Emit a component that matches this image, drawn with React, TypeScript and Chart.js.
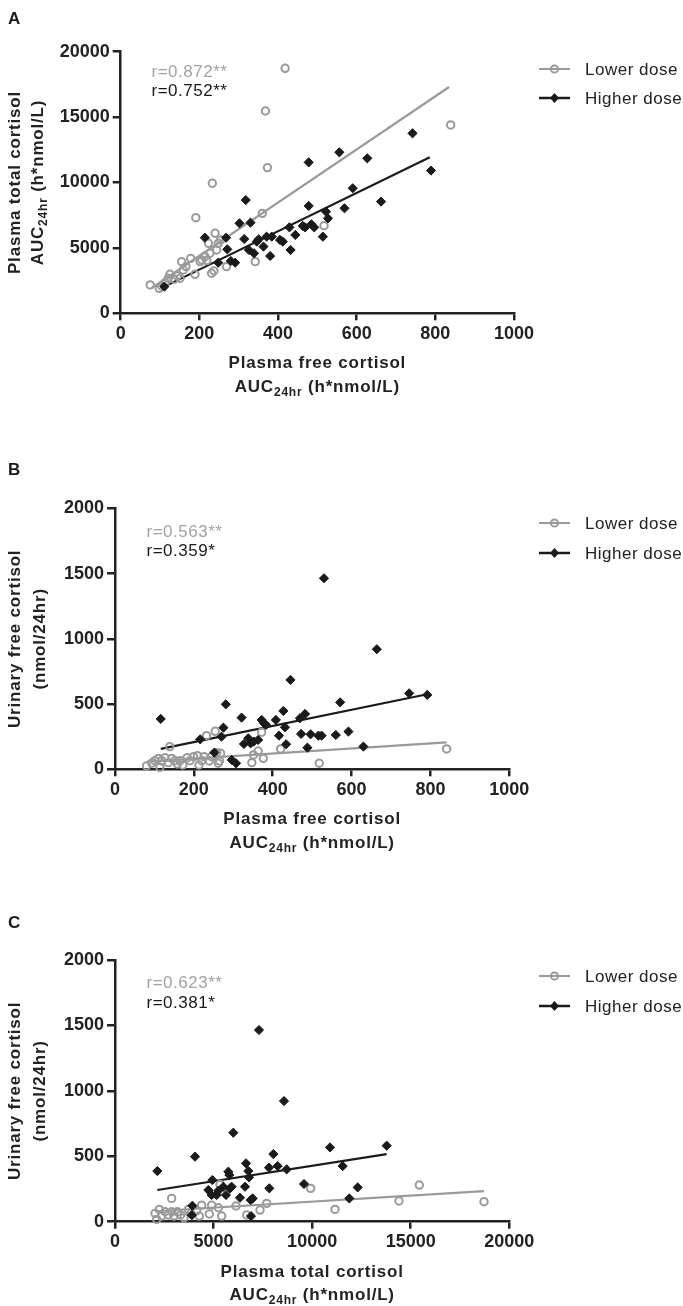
import React, { useEffect, useRef } from 'react';
import { Chart, registerables } from 'chart.js';

Chart.register(...registerables);

// ---------- Data ----------
// Tick labels
const xTicksFree = [0, 200, 400, 600, 800, 1000];
const yTicksTotal = [0, 5000, 10000, 15000, 20000];
const yTicksUrinary = [0, 500, 1000, 1500, 2000];
const xTicksTotal = [0, 5000, 10000, 15000, 20000];

// Panel A: plasma free cortisol (x) vs plasma total cortisol (y)
const aLowerX = [75, 98, 104, 113, 121, 125, 136, 144, 151, 155, 159, 166, 178, 189, 191, 202, 206, 214, 219, 223, 227, 231, 233, 237, 240, 244, 248, 254, 269, 342, 360, 368, 373, 418, 517, 839];
const aLowerY = [2170, 1910, 2090, 2340, 2680, 2980, 2600, 2850, 2680, 3950, 3310, 3570, 4200, 2980, 7310, 3950, 4080, 4330, 4030, 5350, 4590, 3060, 9940, 3240, 6120, 4840, 5350, 5610, 3570, 3950, 7640, 15470, 11140, 18730, 6700, 14400];
const aHigherX = [111, 214, 248, 268, 271, 280, 291, 318, 302, 314, 326, 330, 339, 346, 351, 363, 371, 380, 384, 405, 412, 429, 432, 444, 463, 469, 478, 478, 485, 492, 514, 522, 527, 556, 569, 590, 627, 662, 742, 789];
const aHigherY = [2040, 5780, 3870, 5780, 4890, 4000, 3870, 8660, 6880, 5680, 4840, 6930, 4590, 5480, 5660, 5100, 5860, 4380, 5860, 5610, 5480, 6570, 4840, 5990, 6680, 6570, 11540, 8210, 6800, 6570, 5860, 7770, 7260, 12310, 8030, 9560, 11850, 8540, 13760, 10910];
const aLowerFitX = [78, 835];
const aLowerFitY = [1920, 17300];
const aHigherFitX = [111, 786];
const aHigherFitY = [2040, 11930];

// Panel B: plasma free cortisol (x) vs urinary free cortisol (y)
const bLowerX = [80, 93, 101, 110, 114, 118, 127, 135, 139, 144, 152, 158, 165, 172, 183, 190, 199, 209, 213, 220, 226, 232, 239, 245, 254, 258, 262, 268, 265, 347, 351, 363, 372, 376, 420, 518, 841];
const bLowerY = [26, 46, 66, 84, 15, 66, 89, 51, 174, 84, 66, 41, 66, 33, 89, 66, 97, 105, 33, 66, 97, 258, 64, 97, 291, 128, 46, 123, 64, 51, 110, 140, 284, 84, 156, 46, 156];
const bHigherX = [116, 216, 252, 275, 270, 281, 296, 307, 321, 327, 338, 344, 352, 363, 372, 378, 383, 408, 416, 427, 431, 434, 445, 469, 472, 482, 488, 496, 516, 524, 530, 560, 571, 592, 630, 664, 746, 792];
const bHigherY = [386, 230, 128, 319, 250, 498, 72, 46, 396, 194, 238, 199, 212, 225, 378, 352, 340, 378, 258, 447, 322, 192, 685, 391, 271, 424, 166, 268, 258, 258, 1464, 263, 513, 289, 174, 920, 582, 570];
const bLowerFitX = [80, 841];
const bLowerFitY = [59, 207];
const bHigherFitX = [116, 792];
const bHigherFitY = [156, 575];

// Panel C: plasma total cortisol (x) vs urinary free cortisol (y)
const cLowerX = [2029, 2113, 2249, 2367, 2536, 2705, 2874, 2874, 2993, 3162, 3331, 3500, 3720, 3855, 4142, 4278, 4396, 4785, 4903, 5241, 5326, 5410, 6137, 6679, 7355, 7693, 9925, 11160, 14405, 15436, 18717];
const cLowerY = [64, 18, 94, 43, 76, 51, 178, 76, 43, 76, 51, 31, 94, 64, 84, 43, 127, 59, 127, 107, 285, 43, 120, 51, 89, 140, 255, 94, 158, 280, 153];
const cHigherX = [2147, 4058, 3923, 3900, 4937, 4734, 4903, 5157, 5241, 5495, 5630, 5749, 5799, 5833, 5918, 6002, 6340, 6594, 6645, 6763, 6797, 6882, 6983, 6899, 7304, 7811, 7828, 8031, 8251, 8572, 8707, 9587, 10905, 11548, 11886, 12309, 13780];
const cHigherY = [387, 497, 122, 50, 318, 242, 204, 204, 237, 267, 204, 382, 357, 255, 267, 680, 183, 267, 446, 387, 339, 166, 178, 43, 1465, 413, 255, 517, 425, 922, 400, 288, 568, 425, 178, 262, 581];
const cLowerFitX = [2029, 18717];
const cLowerFitY = [80, 234];
const cHigherFitX = [2147, 13780];
const cHigherFitY = [242, 517];

const seriesNames = ['Lower dose', 'Higher dose'];

// ---------- Styles ----------
const FONT = "'Liberation Sans', Arial, Helvetica, sans-serif";
const AXIS = '#222222';
const GRAY = '#9a9a9a';
const GRAY_TEXT = '#a3a3a3';
const BLACK = '#1a1a1a';

type Seg = { t: string; sub?: boolean };

const aucSegs: Seg[] = [{ t: 'AUC' }, { t: '24hr', sub: true }, { t: ' (h*nmol/L)' }];

interface PanelCfg {
  top: number;
  height: number;
  plot: { l: number; r: number; t: number; b: number };
  xMax: number;
  yMax: number;
  xTicks: number[];
  yTicks: number[];
  lowerX: number[];
  lowerY: number[];
  higherX: number[];
  higherY: number[];
  lowerFitX: number[];
  lowerFitY: number[];
  higherFitX: number[];
  higherFitY: number[];
  letter: string;
  letterY: number;
  rTexts: { t: string; color: string; y: number }[];
  rX: number;
  legendY: number[];
  xTitle: Seg[][];
  yTitle: Seg[][];
  yTitleX: number[];
}

const panels: PanelCfg[] = [
  {
    top: 0,
    height: 453,
    plot: { l: 120.7, r: 514, t: 51.7, b: 313.3 },
    xMax: 1000,
    yMax: 20000,
    xTicks: xTicksFree,
    yTicks: yTicksTotal,
    lowerX: aLowerX, lowerY: aLowerY, higherX: aHigherX, higherY: aHigherY,
    lowerFitX: aLowerFitX, lowerFitY: aLowerFitY, higherFitX: aHigherFitX, higherFitY: aHigherFitY,
    letter: 'A',
    letterY: 23.5,
    rTexts: [
      { t: 'r=0.872**', color: GRAY_TEXT, y: 77 },
      { t: 'r=0.752**', color: BLACK, y: 95.5 },
    ],
    rX: 151.5,
    legendY: [69, 98],
    xTitle: [[{ t: 'Plasma free cortisol' }], aucSegs],
    yTitle: [[{ t: 'Plasma total cortisol' }], aucSegs],
    yTitleX: [20, 43],
  },
  {
    top: 453,
    height: 453,
    plot: { l: 115, r: 509.3, t: 55.3, b: 316.3 },
    xMax: 1000,
    yMax: 2000,
    xTicks: xTicksFree,
    yTicks: yTicksUrinary,
    lowerX: bLowerX, lowerY: bLowerY, higherX: bHigherX, higherY: bHigherY,
    lowerFitX: bLowerFitX, lowerFitY: bLowerFitY, higherFitX: bHigherFitX, higherFitY: bHigherFitY,
    letter: 'B',
    letterY: 22,
    rTexts: [
      { t: 'r=0.563**', color: GRAY_TEXT, y: 84 },
      { t: 'r=0.359*', color: BLACK, y: 103 },
    ],
    rX: 146.5,
    legendY: [70, 100],
    xTitle: [[{ t: 'Plasma free cortisol' }], aucSegs],
    yTitle: [[{ t: 'Urinary free cortisol' }], [{ t: '(nmol/24hr)' }]],
    yTitleX: [20, 45],
  },
  {
    top: 906,
    height: 400,
    plot: { l: 115, r: 509.3, t: 54, b: 315.7 },
    xMax: 20000,
    yMax: 2000,
    xTicks: xTicksTotal,
    yTicks: yTicksUrinary,
    lowerX: cLowerX, lowerY: cLowerY, higherX: cHigherX, higherY: cHigherY,
    lowerFitX: cLowerFitX, lowerFitY: cLowerFitY, higherFitX: cHigherFitX, higherFitY: cHigherFitY,
    letter: 'C',
    letterY: 22,
    rTexts: [
      { t: 'r=0.623**', color: GRAY_TEXT, y: 82 },
      { t: 'r=0.381*', color: BLACK, y: 102 },
    ],
    rX: 146.5,
    legendY: [70, 100],
    xTitle: [[{ t: 'Plasma total cortisol' }], aucSegs],
    yTitle: [[{ t: 'Urinary free cortisol' }], [{ t: '(nmol/24hr)' }]],
    yTitleX: [20, 45],
  },
];

function zip(xs: number[], ys: number[]) {
  return xs.map((x, i) => ({ x, y: ys[i] }));
}

function drawSegs(
  ctx: CanvasRenderingContext2D,
  segs: Seg[],
  x: number,
  y: number,
  align: 'left' | 'center',
  size: number,
  weight: string,
  spacing: number,
  color: string
) {
  const mainFont = `${weight} ${size}px ${FONT}`;
  const subFont = `${weight} ${Math.round(size * 0.7)}px ${FONT}`;
  ctx.fillStyle = color;
  (ctx as any).letterSpacing = spacing + 'px';
  ctx.textBaseline = 'alphabetic';
  ctx.textAlign = 'left';
  const widths: number[] = [];
  let total = 0;
  for (const s of segs) {
    ctx.font = s.sub ? subFont : mainFont;
    const w = ctx.measureText(s.t).width;
    widths.push(w);
    total += w;
  }
  let cx = align === 'center' ? x - total / 2 : x;
  segs.forEach((s, i) => {
    ctx.font = s.sub ? subFont : mainFont;
    ctx.fillText(s.t, cx, y + (s.sub ? size * 0.22 : 0));
    cx += widths[i];
  });
  (ctx as any).letterSpacing = '0px';
}

function drawOverlay(chart: Chart, cfg: PanelCfg) {
  const ctx = chart.ctx;
  const area = chart.chartArea;
  ctx.save();

  // Panel letter
  drawSegs(ctx, [{ t: cfg.letter }], 8, cfg.letterY, 'left', 17, 'bold', 0, BLACK);

  // r values
  cfg.rTexts.forEach((r) => {
    drawSegs(ctx, [{ t: r.t }], cfg.rX, r.y, 'left', 17, 'normal', 0.5, r.color);
  });

  // Legend
  const lx0 = 539;
  const lx1 = 570;
  const mx = 554.5;
  const tx = 585;
  // Lower dose
  let ly = cfg.legendY[0];
  ctx.strokeStyle = GRAY;
  ctx.lineWidth = 2;
  ctx.beginPath();
  ctx.moveTo(lx0, ly);
  ctx.lineTo(lx1, ly);
  ctx.stroke();
  ctx.beginPath();
  ctx.arc(mx, ly, 3.6, 0, Math.PI * 2);
  ctx.fillStyle = '#ffffff';
  ctx.fill();
  ctx.stroke();
  ctx.beginPath();
  ctx.moveTo(mx - 3.6, ly);
  ctx.lineTo(mx + 3.6, ly);
  ctx.stroke();
  drawSegs(ctx, [{ t: seriesNames[0] }], tx, ly + 6, 'left', 17, 'normal', 0.5, '#222222');
  // Higher dose
  ly = cfg.legendY[1];
  ctx.strokeStyle = BLACK;
  ctx.lineWidth = 2.5;
  ctx.beginPath();
  ctx.moveTo(lx0, ly);
  ctx.lineTo(lx1, ly);
  ctx.stroke();
  ctx.fillStyle = BLACK;
  ctx.beginPath();
  ctx.moveTo(mx, ly - 5);
  ctx.lineTo(mx + 4.5, ly);
  ctx.lineTo(mx, ly + 5);
  ctx.lineTo(mx - 4.5, ly);
  ctx.closePath();
  ctx.fill();
  drawSegs(ctx, [{ t: seriesNames[1] }], tx, ly + 6, 'left', 17, 'normal', 0.5, '#222222');

  // X title
  const cxMid = (area.left + area.right) / 2;
  drawSegs(ctx, cfg.xTitle[0], cxMid, area.bottom + 55, 'center', 17, 'bold', 0.8, AXIS);
  drawSegs(ctx, cfg.xTitle[1], cxMid, area.bottom + 78.5, 'center', 17, 'bold', 0.8, AXIS);

  // Y title (rotated)
  const cyMid = (area.top + area.bottom) / 2;
  cfg.yTitle.forEach((line, i) => {
    ctx.save();
    ctx.translate(cfg.yTitleX[i], cyMid);
    ctx.rotate(-Math.PI / 2);
    drawSegs(ctx, line, 0, 0, 'center', 17, 'bold', 0.8, AXIS);
    ctx.restore();
  });

  ctx.restore();
}

function Panel({ cfg }: { cfg: PanelCfg }) {
  const ref = useRef<HTMLCanvasElement | null>(null);

  useEffect(() => {
    const canvas = ref.current;
    if (!canvas) return;
    const W = 683;
    const H = cfg.height;
    const tickFont = { family: FONT, size: 18, weight: 'bold' as const };

    const chart = new Chart(canvas, {
      type: 'scatter',
      data: {
        datasets: [
          {
            label: seriesNames[1],
            data: zip(cfg.higherX, cfg.higherY),
            pointStyle: 'rectRot',
            pointRadius: 4.6,
            borderWidth: 1,
            borderColor: BLACK,
            backgroundColor: BLACK,
            showLine: false,
            clip: false,
            order: 1,
          },
          {
            label: seriesNames[0],
            data: zip(cfg.lowerX, cfg.lowerY),
            pointStyle: 'circle',
            pointRadius: 3.7,
            borderWidth: 2,
            borderColor: GRAY,
            backgroundColor: 'rgba(255,255,255,0)',
            showLine: false,
            clip: false,
            order: 2,
          },
          {
            label: seriesNames[1] + ' fit',
            data: zip(cfg.higherFitX, cfg.higherFitY),
            showLine: true,
            pointRadius: 0,
            borderColor: BLACK,
            borderWidth: 2.2,
            clip: false,
            order: 3,
          },
          {
            label: seriesNames[0] + ' fit',
            data: zip(cfg.lowerFitX, cfg.lowerFitY),
            showLine: true,
            pointRadius: 0,
            borderColor: GRAY,
            borderWidth: 2.2,
            clip: false,
            order: 4,
          },
        ],
      },
      options: {
        responsive: false,
        animation: false,
        events: [],
        layout: {
          padding: { left: 0, top: cfg.plot.t, right: W - cfg.plot.r, bottom: 0 },
        },
        plugins: {
          legend: { display: false },
          tooltip: { enabled: false },
          title: { display: false },
        },
        scales: {
          x: {
            type: 'linear',
            min: 0,
            max: cfg.xMax,
            offset: false,
            afterBuildTicks: (s: any) => {
              s.ticks = cfg.xTicks.map((v) => ({ value: v }));
            },
            afterFit: (s: any) => {
              s.height = H - cfg.plot.b;
            },
            grid: {
              display: true,
              drawOnChartArea: false,
              drawTicks: true,
              tickLength: 7,
              tickWidth: 2.5,
              tickColor: AXIS,
              color: AXIS,
              lineWidth: 2.5,
            },
            border: { display: true, color: AXIS, width: 2.5 },
            ticks: {
              font: tickFont,
              color: AXIS,
              padding: 3,
              maxRotation: 0,
              autoSkip: false,
              callback: (v: any) => String(v),
            },
          },
          y: {
            type: 'linear',
            min: 0,
            max: cfg.yMax,
            afterBuildTicks: (s: any) => {
              s.ticks = cfg.yTicks.map((v) => ({ value: v }));
            },
            afterFit: (s: any) => {
              s.width = cfg.plot.l;
            },
            grid: {
              display: true,
              drawOnChartArea: false,
              drawTicks: true,
              tickLength: 8,
              tickWidth: 2.5,
              tickColor: AXIS,
              color: AXIS,
              lineWidth: 2.5,
            },
            border: { display: true, color: AXIS, width: 2.5 },
            ticks: {
              font: tickFont,
              color: AXIS,
              padding: 3,
              autoSkip: false,
              callback: (v: any) => String(v),
            },
          },
        },
      },
      plugins: [
        {
          id: 'overlay-' + cfg.letter,
          afterDraw: (c: Chart) => drawOverlay(c, cfg),
        },
      ],
    });

    return () => {
      chart.destroy();
    };
  }, [cfg]);

  return (
    <canvas
      ref={ref}
      width={683}
      height={cfg.height}
      style={{ position: 'absolute', left: 0, top: cfg.top, width: 683, height: cfg.height, display: 'block' }}
    />
  );
}

export default function App() {
  return (
    <div
      style={{
        position: 'absolute',
        left: 0,
        top: 0,
        width: 683,
        height: 1306,
        background: '#ffffff',
        overflow: 'hidden',
      }}
    >
      {panels.map((p) => (
        <Panel key={p.letter} cfg={p} />
      ))}
    </div>
  );
}
